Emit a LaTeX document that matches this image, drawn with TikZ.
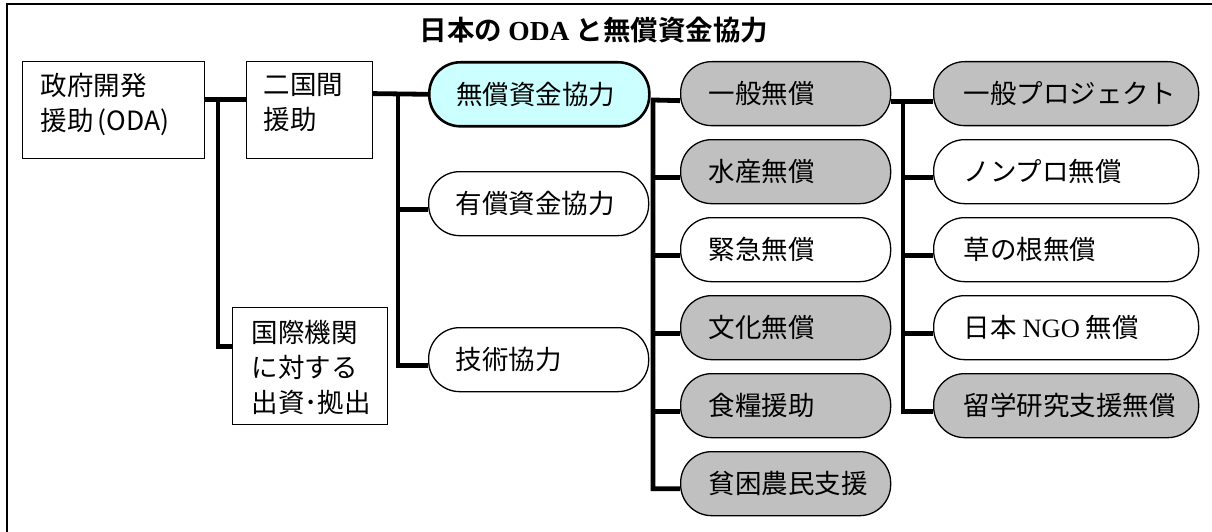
\documentclass[tikz,border=0pt]{standalone}
\usepackage{fontspec}
\setmainfont{Noto Sans CJK JP}[BoldFont={Noto Sans CJK JP Bold}]
\newfontfamily\serifl{Liberation Serif}
\usetikzlibrary{backgrounds,calc}
\definecolor{pillgray}{RGB}{192,192,192}
\definecolor{pillcyan}{RGB}{204,255,255}
\newcommand{\pilltext}[3]{\makebox[#1][l]{\hspace{#2}#3}}
\newcommand{\boxtext}[5]{\parbox[c][#2][t]{#1}{\leftskip=#3\vspace*{#4}#5}}
\tikzset{
  conn/.style={line width=4.8pt, line join=miter, line cap=butt, draw=black},
  pill/.style={draw=black, line width=1.3pt, rounded corners=31pt, minimum height=64pt,
    inner sep=0pt, anchor=north west, font=\fontsize{26.5}{30}\selectfont},
  boxnode/.style={draw=black, line width=1.2pt, inner sep=0pt, anchor=north west,
    font=\fontsize{26.5}{35}\selectfont},
  titletext/.style={font=\fontsize{27.5}{32}\selectfont\bfseries}
}
\begin{document}
\begin{tikzpicture}[x=1pt,y=-1pt]
\useasboundingbox (0,0) rectangle (1212,532);
\draw[line width=2pt, line join=miter] (1212,4.5) -- (6.5,4.5) -- (6.5,532);

\node[titletext] (title) at (594,30) {日本の {\serifl\bfseries ODA} と無償資金協力};

% column 1 and 2 boxes
\node[boxnode] (oda) at (22,61) {\boxtext{182pt}{97pt}{18pt}{12pt}{政府開発\\援助\hspace{4pt}(ODA)}};
\node[boxnode] (nikoku) at (246,61) {\boxtext{126pt}{97pt}{17pt}{12pt}{二国間\\援助}};
\node[boxnode] (kokusai) at (232,307) {\boxtext{155pt}{117pt}{19pt}{13pt}{国際機関\\に対する\\出資･拠出}};

% column 3
\node[pill, fill=pillcyan, line width=2.6pt] (muso) at (428,61) {\pilltext{220pt}{27pt}{無償資金協力}};
\node[pill, fill=white] (yusho) at (428,171) {\pilltext{220pt}{27pt}{有償資金協力}};
\node[pill, fill=white] (gijutsu) at (428,327) {\pilltext{220pt}{27pt}{技術協力}};

% column 4
\node[pill, fill=pillgray] (ippan) at (680,61) {\pilltext{210pt}{28pt}{一般無償}};
\node[pill, fill=pillgray] (suisan) at (680,139) {\pilltext{210pt}{28pt}{水産無償}};
\node[pill, fill=white] (kinkyu) at (680,217) {\pilltext{210pt}{28pt}{緊急無償}};
\node[pill, fill=pillgray] (bunka) at (680,295) {\pilltext{210pt}{28pt}{文化無償}};
\node[pill, fill=pillgray] (shokuryo) at (680,373) {\pilltext{210pt}{28pt}{食糧援助}};
\node[pill, fill=pillgray] (hinkon) at (680,451) {\pilltext{210pt}{28pt}{貧困農民支援}};

% column 5
\node[pill, fill=pillgray] (proj) at (933,61) {\pilltext{265pt}{30pt}{一般プロジェクト}};
\node[pill, fill=white] (nonpro) at (933,139) {\pilltext{265pt}{30pt}{ノンプロ無償}};
\node[pill, fill=white] (kusa) at (933,217) {\pilltext{265pt}{30pt}{草の根無償}};
\node[pill, fill=white] (ngo) at (933,295) {\pilltext{265pt}{30pt}{日本 {\serifl NGO} 無償}};
\node[pill, fill=pillgray] (ryugaku) at (933,373) {\pilltext{265pt}{30pt}{留学研究支援無償}};

\begin{scope}[on background layer]
\begin{scope}[conn]
  \coordinate (j1) at (218,99);
  \draw ([yshift=10.5pt]oda.east) -- ([yshift=10.5pt]nikoku.west);
  \draw (j1) |- ([yshift=19.5pt]kokusai.west);

  \coordinate (j2) at (398,93);
  \draw ([yshift=16.5pt]nikoku.east) -- (muso.west);
  \draw (j2) |- ([yshift=-6pt]gijutsu.west);
  \draw ([yshift=-6pt]yusho.west) -| (j2);

  \coordinate (j4) at (653,100);
  \draw ([yshift=-7pt]ippan.west) -- (j4) |- ([yshift=-5pt]hinkon.west);
  \draw ([yshift=-6pt]suisan.west) -| (j4);
  \draw ([yshift=-6pt]kinkyu.west) -| (j4);
  \draw ([yshift=-6pt]bunka.west) -| (j4);
  \draw ([yshift=-6pt]shokuryo.west) -| (j4);

  \coordinate (j5) at (903,101);
  \draw ([yshift=-8pt]ippan.east) -- ([yshift=-8pt]proj.west);
  \draw (j5) |- ([yshift=-6pt]ryugaku.west);
  \draw ([yshift=-6pt]nonpro.west) -| (j5);
  \draw ([yshift=-6pt]kusa.west) -| (j5);
  \draw ([yshift=-6pt]ngo.west) -| (j5);
\end{scope}
\end{scope}
\end{tikzpicture}
\end{document}
